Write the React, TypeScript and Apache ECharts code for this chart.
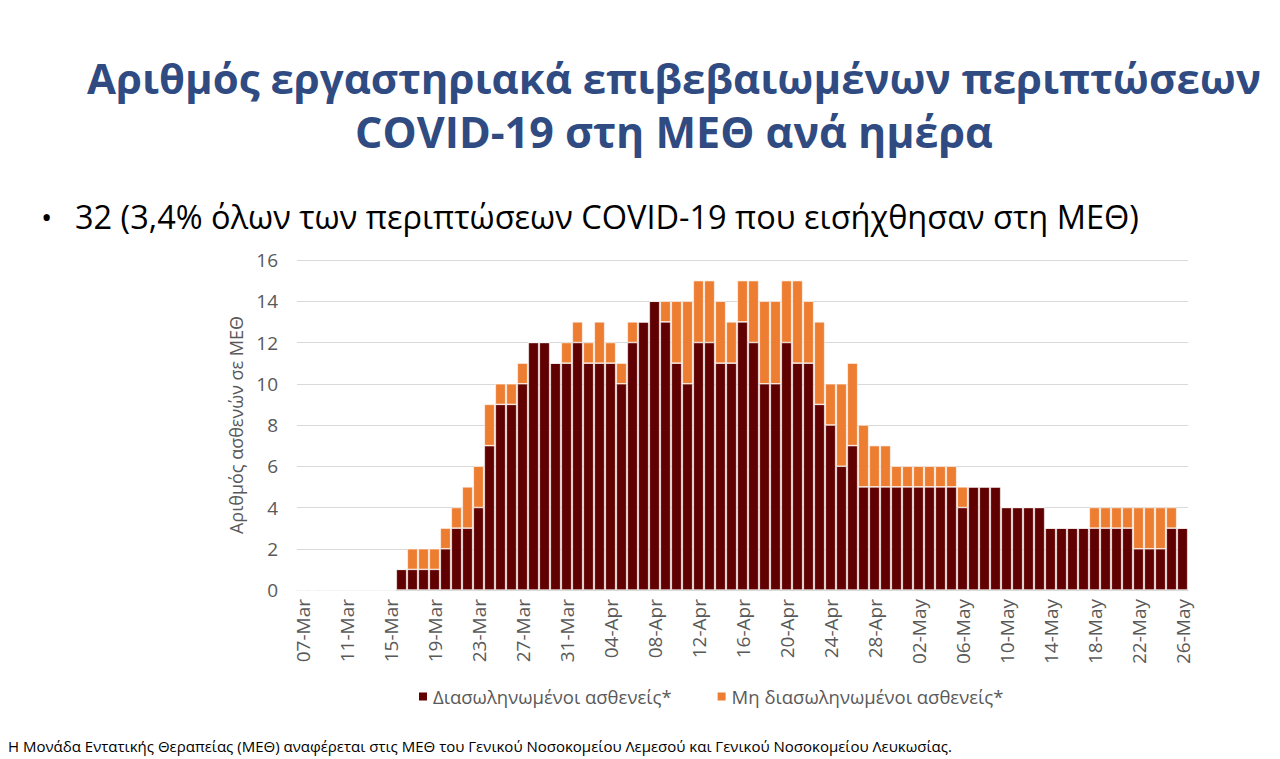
import React, { useEffect, useRef } from "react";
import * as echarts from "echarts";

const dates = [
  "07-Mar","08-Mar","09-Mar","10-Mar","11-Mar","12-Mar","13-Mar","14-Mar","15-Mar","16-Mar",
  "17-Mar","18-Mar","19-Mar","20-Mar","21-Mar","22-Mar","23-Mar","24-Mar","25-Mar","26-Mar",
  "27-Mar","28-Mar","29-Mar","30-Mar","31-Mar","01-Apr","02-Apr","03-Apr","04-Apr","05-Apr",
  "06-Apr","07-Apr","08-Apr","09-Apr","10-Apr","11-Apr","12-Apr","13-Apr","14-Apr","15-Apr",
  "16-Apr","17-Apr","18-Apr","19-Apr","20-Apr","21-Apr","22-Apr","23-Apr","24-Apr","25-Apr",
  "26-Apr","27-Apr","28-Apr","29-Apr","30-Apr","01-May","02-May","03-May","04-May","05-May",
  "06-May","07-May","08-May","09-May","10-May","11-May","12-May","13-May","14-May","15-May",
  "16-May","17-May","18-May","19-May","20-May","21-May","22-May","23-May","24-May","25-May",
  "26-May",
];

// Mar 7 .. May 26
const intubated = [
  0,0,0,0,0,0,0,0,0,1,
  1,1,1,2,3,3,4,7,9,9,
  10,12,12,11,11,12,11,11,11,10,
  12,13,14,13,11,10,12,12,11,11,
  13,12,10,10,12,11,11,9,8,6,
  7,5,5,5,5,5,5,5,5,5,
  4,5,5,5,4,4,4,4,3,3,
  3,3,3,3,3,3,2,2,2,3,
  3,
];

const nonIntubated = [
  0,0,0,0,0,0,0,0,0,0,
  1,1,1,1,1,2,2,2,1,1,
  1,0,0,0,1,1,1,2,1,1,
  1,0,0,1,3,4,3,3,3,2,
  2,3,4,4,3,4,3,4,2,4,
  4,3,2,2,1,1,1,1,1,1,
  1,0,0,0,0,0,0,0,0,0,
  0,0,1,1,1,1,2,2,2,1,
  0,
];

const yTicks = [0, 2, 4, 6, 8, 10, 12, 14, 16];

const titleLines = [
  "Αριθμός εργαστηριακά επιβεβαιωμένων περιπτώσεων",
  "COVID-19 στη ΜΕΘ ανά ημέρα",
];
const bulletText = "32 (3,4% όλων των περιπτώσεων COVID-19 που εισήχθησαν στη ΜΕΘ)";
const footnote =
  "Η Μονάδα Εντατικής Θεραπείας (ΜΕΘ) αναφέρεται στις ΜΕΘ του Γενικού Νοσοκομείου Λεμεσού και Γενικού Νοσοκομείου Λευκωσίας.";
const seriesNames = ["Διασωληνωμένοι ασθενείς*", "Μη διασωληνωμένοι ασθενείς*"];
const yAxisName = "Αριθμός ασθενών σε ΜΕΘ";

const FONT = "'Open Sans', 'Noto Sans', sans-serif";

export default function App() {
  const ref = useRef<HTMLDivElement>(null);
  useEffect(() => {
    if (!ref.current) return;
    const chart = echarts.init(ref.current, undefined, { renderer: "svg" });
    chart.setOption({
      animation: false,
      backgroundColor: "#ffffff",
      textStyle: { fontFamily: FONT },
      graphic: [
        {
          type: "text",
          x: 674,
          y: 77,
          style: {
            text: titleLines[0],
            fontFamily: FONT,
            fontWeight: "bold",
            fontSize: 42,
            fill: "#2f4b81",
            align: "center",
            verticalAlign: "middle",
          },
        },
        {
          type: "text",
          x: 674,
          y: 131,
          style: {
            text: titleLines[1],
            fontFamily: FONT,
            fontWeight: "bold",
            fontSize: 43,
            fill: "#2f4b81",
            align: "center",
            verticalAlign: "middle",
          },
        },
        {
          type: "text",
          x: 41,
          y: 216,
          style: {
            text: "•",
            fontFamily: FONT,
            fontSize: 30,
            fill: "#000000",
            align: "left",
            verticalAlign: "middle",
          },
        },
        {
          type: "text",
          x: 75,
          y: 216,
          style: {
            text: bulletText,
            fontFamily: FONT,
            fontSize: 32.5,
            fill: "#000000",
            align: "left",
            verticalAlign: "middle",
          },
        },
        {
          type: "text",
          x: 8,
          y: 746,
          style: {
            text: footnote,
            fontFamily: FONT,
            fontSize: 15,
            fill: "#000000",
            align: "left",
            verticalAlign: "middle",
          },
        },
      ],
      legend: {
        left: 412,
        top: 682,
        icon: "rect",
        itemWidth: 10,
        itemHeight: 10,
        itemGap: 44,
        textStyle: { fontFamily: FONT, fontSize: 18.5, color: "#595959" },
        data: seriesNames,
      },
      grid: { left: 297, right: 92, top: 260, bottom: 169 },
      xAxis: {
        type: "category",
        data: dates,
        axisLine: { lineStyle: { color: "#d9d9d9" } },
        axisTick: { show: false },
        axisLabel: {
          interval: 3,
          rotate: 90,
          fontFamily: FONT,
          fontSize: 19,
          color: "#595959",
          margin: 9,
        },
      },
      yAxis: {
        type: "value",
        min: yTicks[0],
        max: yTicks[yTicks.length - 1],
        interval: 2,
        name: yAxisName,
        nameLocation: "middle",
        nameGap: 51,
        nameTextStyle: { fontFamily: FONT, fontSize: 18, color: "#595959" },
        axisLine: { show: false },
        axisTick: { show: false },
        splitLine: { lineStyle: { color: "#d9d9d9", width: 1 } },
        axisLabel: { fontFamily: FONT, fontSize: 19, color: "#595959", margin: 19 },
      },
      series: [
        {
          name: seriesNames[0],
          type: "bar",
          stack: "total",
          data: intubated,
          barCategoryGap: "6%",
          itemStyle: { color: "#600000", borderColor: "#ffffff", borderWidth: 0.6 },
        },
        {
          name: seriesNames[1],
          type: "bar",
          stack: "total",
          data: nonIntubated,
          barCategoryGap: "6%",
          itemStyle: { color: "#ed7d31", borderColor: "#ffffff", borderWidth: 0.6 },
        },
      ],
    });
    return () => chart.dispose();
  }, []);
  return (
    <div
      ref={ref}
      style={{ position: "fixed", left: 0, top: 0, width: 1280, height: 759 }}
    />
  );
}
